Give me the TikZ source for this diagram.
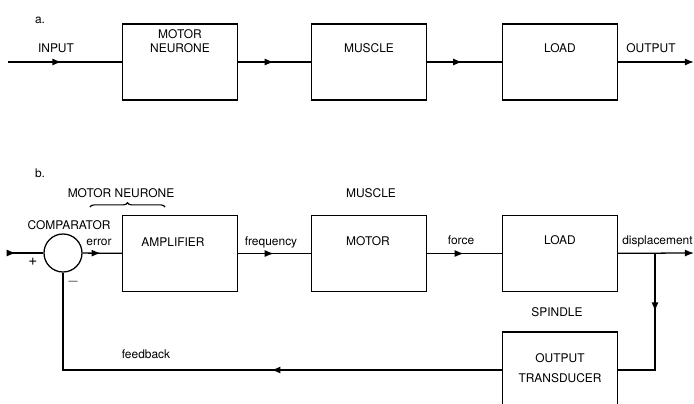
\documentclass[tikz,border=0pt]{standalone}
\usepackage{fontspec}
\setmainfont{TeX Gyre Heros}
\usetikzlibrary{positioning,arrows.meta,decorations.markings,decorations.pathreplacing}
\tikzset{
  blk/.style={draw, line width=0.9pt, minimum width=2.875cm, minimum height=1.9cm, inner sep=0pt},
  txt/.style={font=\fontsize{8.5}{10}\selectfont, inner sep=0pt, align=center},
  sig/.style={line width=0.9pt},
  midarrow/.style={sig, postaction={decorate},
    decoration={markings, mark=at position #1 with {\arrow{Latex[length=6.5pt,width=5pt]}}}},
  endarrow/.style={sig, -{Latex[length=6.5pt,width=5pt]}},
}
\begin{document}
\begin{tikzpicture}[x=0.025cm, y=-0.025cm]
  \clip (0,0) rectangle (694,403);
  % a.
  \node[txt, anchor=base] (taga) at (40,23) {a.};
  \node[blk] (neua) at (180,62) {};
  \node[blk] (musa) at (369,62) {};
  \node[blk] (loada) at (560,62) {};
  \coordinate (ina) at (8,62);
  \coordinate (outa) at (694,62);
  \draw[midarrow=0.47] (ina) -- (neua);
  \draw[midarrow=0.49] (neua) -- (musa);
  \draw[midarrow=0.47] (musa) -- (loada);
  \draw[endarrow] (loada) -- (outa);
  \node[txt, anchor=base] (tin) at (56,52.5) {INPUT};
  \node[txt, anchor=base] (tneua) at (180,52.5) {MOTOR\\NEURONE};
  \node[txt, anchor=base] (tmusa) at (369,52.5) {MUSCLE};
  \node[txt, anchor=base] (tloada) at (560,52.5) {LOAD};
  \node[txt, anchor=base] (tout) at (651,52.5) {OUTPUT};
  % b.
  \node[txt, anchor=base] (tagb) at (40,177) {b.};
  \node[draw, circle, line width=0.9pt, minimum size=0.95cm, inner sep=0pt] (cmp) at (63,253) {};
  \node[blk] (amp) at (180,253.5) {};
  \node[blk] (mot) at (369,253.5) {};
  \node[blk] (loadb) at (560,253.5) {};
  \node[blk] (trd) at (560,370) {};
  \coordinate (inb) at (8,253);
  \coordinate (outb) at (694,253);
  \coordinate (br) at (655,253);
  \draw[midarrow=0.22] (inb) -- (cmp);
  \draw[midarrow=0.46] (cmp) -- (amp);
  \draw[midarrow=0.49] (amp) -- (mot);
  \draw[midarrow=0.49] (mot) -- (loadb);
  \draw[endarrow] (loadb) -- (outb);
  \draw[midarrow=0.38] (br) |- (trd);
  \draw[midarrow=0.43] (trd) -| (cmp);
  \draw[line width=0.8pt, decorate, decoration={brace, amplitude=3pt}] (90,207) -- (165,207);
  \node[txt, anchor=base] (tneub) at (121,197.5) {MOTOR NEURONE};
  \node[txt, anchor=base] (tmusb) at (371,197.5) {MUSCLE};
  \node[txt, anchor=base] (tcmp) at (69,229.5) {COMPARATOR};
  \node[txt, anchor=base] (terr) at (99,245) {error};
  \node[txt, anchor=base] (tamp) at (173,246.5) {AMPLIFIER};
  \node[txt, anchor=base] (tfrq) at (271,245) {frequency};
  \node[txt, anchor=base] (tmot) at (368,245.5) {MOTOR};
  \node[txt, anchor=base] (tfrc) at (461,244) {force};
  \node[txt, anchor=base] (tloadb) at (560,244.5) {LOAD};
  \node[txt, anchor=base west] (tdsp) at (622,244) {displacement};
  \node[txt, font=\fontsize{11}{12}\selectfont] (tplus) at (33,262) {+};
  \node[txt, font=\fontsize{11}{12}\selectfont] (tminus) at (73,282) {$-$};
  \node[txt, anchor=base] (tspn) at (557,316.5) {SPINDLE};
  \node[txt, anchor=base] (tfb) at (146,358.5) {feedback};
  \node[txt, anchor=base] (ttrd1) at (560,362.5) {OUTPUT};
  \node[txt, anchor=base] (ttrd2) at (560,382.5) {TRANSDUCER};
\end{tikzpicture}
\end{document}
